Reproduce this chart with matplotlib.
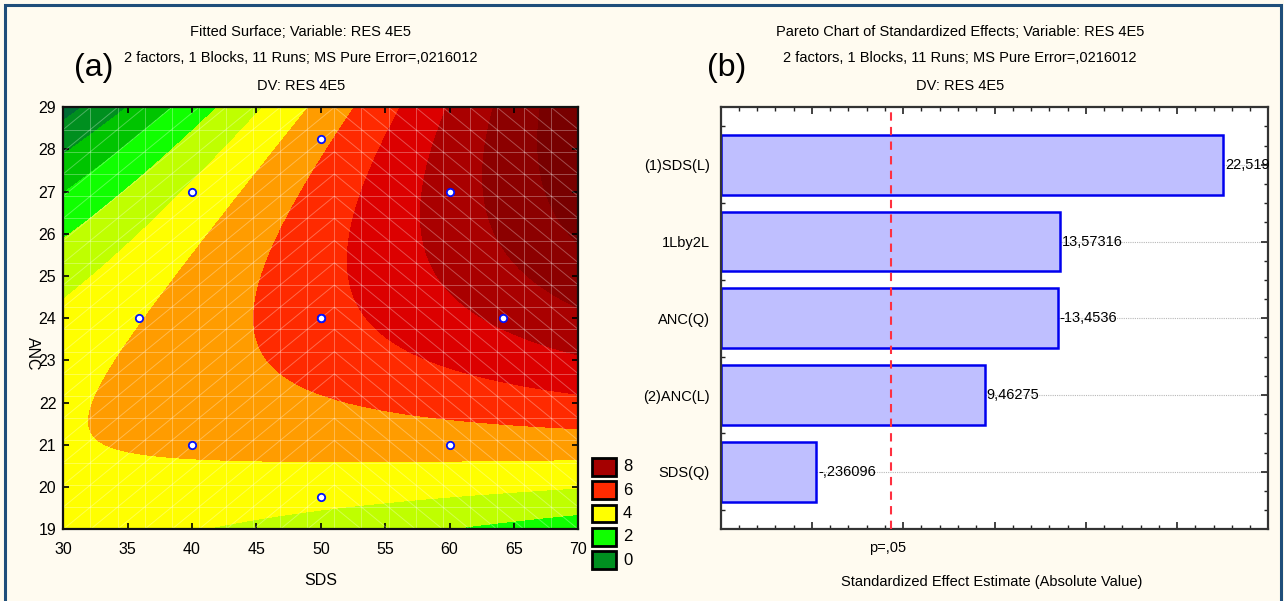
import numpy as np
import matplotlib.pyplot as plt
from matplotlib.collections import LineCollection
from matplotlib.patches import Rectangle
from matplotlib.ticker import MultipleLocator, NullFormatter, FixedLocator

plt.rcParams['font.family'] = ['Liberation Sans', 'DejaVu Sans']

# fitted quadratic model in coded units
b0, b_sds, b_anc, b_sds2, b_anc2, b_int = 6.6, 1.14, 0.52, -0.02, -0.79, 1.0
sds_center, sds_step = 50, 10
anc_center, anc_step = 24, 3

# design runs (CCD, 11 runs)
run_sds = [40, 40, 60, 60, 35.86, 64.14, 50, 50, 50, 50, 50]
run_anc = [21, 27, 21, 27, 24, 24, 19.76, 28.24, 24, 24, 24]

levels = [-2, -1, 0, 1, 2, 3, 4, 5, 6, 7, 8, 9, 10, 11, 12]
band_colors = ['#004f2a', '#006b35', '#008f1f', '#00c400', '#10ff00', '#bfff00',
               '#ffff00', '#ff9c00', '#ff2a00', '#dc0000', '#a90000', '#8c0000',
               '#780000', '#640000']
legend_values = [8, 6, 4, 2, 0]
legend_colors = ['#a50000', '#ff2a00', '#ffff00', '#10ff00', '#009020']

# pareto chart
effects = ['(1)SDS(L)', '1Lby2L', 'ANC(Q)', '(2)ANC(L)', 'SDS(Q)']
t_values = [22.519, 13.57316, -13.4536, 9.46275, -0.236096]
value_labels = ['22,519', '13,57316', '-13,4536', '9,46275', '-,236096']
p05 = 4.303

W, H = 1284, 601
fig = plt.figure(figsize=(W / 100, H / 100), dpi=100)
fig.patch.set_facecolor('#fffbf0')


def px(x0, y0, x1, y1):
    return [x0 / W, 1 - y1 / H, (x1 - x0) / W, (y1 - y0) / H]


# ---------- (a) fitted surface ----------
ax1 = fig.add_axes(px(63.3, 107.3, 578.3, 529.3))
sds = np.linspace(30, 70, 300)
anc = np.linspace(19, 29, 300)
S, A = np.meshgrid(sds, anc)
u = (S - sds_center) / sds_step
v = (A - anc_center) / anc_step
Z = b0 + b_sds * u + b_anc * v + b_sds2 * u ** 2 + b_anc2 * v ** 2 + b_int * u * v
ax1.contourf(S, A, Z, levels=levels, colors=band_colors, zorder=1)

# wire mesh
gx = np.linspace(30, 70, 20)
gy = np.linspace(19, 29, 20)
segs = [[(x, 19), (x, 29)] for x in gx] + [[(30, y), (70, y)] for y in gy]
for i in range(19):
    for j in range(19):
        if i < 10:
            segs.append([(gx[i], gy[j]), (gx[i + 1], gy[j + 1])])
        else:
            segs.append([(gx[i], gy[j + 1]), (gx[i + 1], gy[j])])
ax1.add_collection(LineCollection(segs, colors='white', linewidths=0.7, alpha=0.3, zorder=2))

ax1.scatter(run_sds, run_anc, s=28, facecolor='white', edgecolor='#0010ff',
            linewidth=1.3, zorder=3)
ax1.set_xlim(30, 70)
ax1.set_ylim(19, 29)
ax1.xaxis.set_major_locator(MultipleLocator(5))
ax1.yaxis.set_major_locator(MultipleLocator(1))
ax1.tick_params(direction='in', top=True, right=True, length=4, width=1.2,
                labelsize=11.5, color='black')
ax1.tick_params(axis='x', pad=9)
ax1.tick_params(axis='y', pad=5)
for s in ax1.spines.values():
    s.set_linewidth(1.6)
    s.set_color('#111111')

fig.text(320.8 / W, 1 - 580.7 / H, 'SDS', ha='center', va='center', fontsize=11.5)
fig.text(32.7 / W, 1 - 354 / H, 'ANC', ha='center', va='center', fontsize=11.5,
         rotation=270)

# legend boxes
axl = fig.add_axes(px(590, 455, 640, 572))
axl.set_xlim(0, 50)
axl.set_ylim(5, 0)
axl.axis('off')
for i, (val, col) in enumerate(zip(legend_values, legend_colors)):
    axl.add_patch(Rectangle((2, i + 0.12), 24, 0.76, facecolor=col,
                            edgecolor='black', linewidth=2))
    axl.text(33, i + 0.5, str(val), ha='left', va='center', fontsize=12)

# ---------- (b) pareto chart ----------
ax2 = fig.add_axes(px(720.7, 107.3, 1268.3, 529.3))
ax2.set_facecolor('white')
xmin, xmax = -5, 25
ypos = np.arange(len(effects))
for y in ypos:
    ax2.axhline(y, color='#b8b8b8', linestyle=(0, (1, 1)), linewidth=0.8, zorder=1)
ax2.barh(ypos, np.abs(t_values) - xmin, left=xmin, height=0.78,
         color='#bfbfff', edgecolor='#0000ee', linewidth=1.8, zorder=2)
for y, t, lab in zip(ypos, t_values, value_labels):
    ax2.text(abs(t) + 0.1, y, lab, ha='left', va='center', fontsize=10.5, zorder=4)
ax2.axvline(p05, color='#ff3040', linestyle=(0, (4, 3)), linewidth=1.5, zorder=3)
ax2.set_xlim(xmin, xmax)
ax2.set_ylim(4.75, -0.75)
ax2.xaxis.set_major_locator(MultipleLocator(5))
ax2.xaxis.set_minor_locator(MultipleLocator(1))
ax2.xaxis.set_major_formatter(NullFormatter())
ax2.set_yticks(ypos)
ax2.set_yticklabels(effects)
ax2.yaxis.set_minor_locator(FixedLocator(np.arange(-0.5, 4.75, 0.25)))
ax2.tick_params(which='both', direction='in', top=True, right=True, color='#222222')
ax2.tick_params(which='major', length=5, width=1.2, labelsize=10.5, pad=8)
ax2.tick_params(which='minor', length=3, width=1)
for s in ax2.spines.values():
    s.set_linewidth(1.6)
    s.set_color('#333333')

fig.text(888 / W, 1 - 548 / H, 'p=,05', ha='center', va='center', fontsize=10.5)
fig.text(992 / W, 1 - 581.7 / H, 'Standardized Effect Estimate (Absolute Value)',
         ha='center', va='center', fontsize=10.5)

# titles
title_a = ['Fitted Surface; Variable: RES 4E5',
           '2 factors, 1 Blocks, 11 Runs; MS Pure Error=,0216012', 'DV: RES 4E5']
title_b = ['Pareto Chart of Standardized Effects; Variable: RES 4E5',
           '2 factors, 1 Blocks, 11 Runs; MS Pure Error=,0216012', 'DV: RES 4E5']
for k, yy in enumerate([31.7, 58, 86]):
    fig.text(301 / W, 1 - yy / H, title_a[k], ha='center', va='center', fontsize=10.5)
    fig.text(960 / W, 1 - yy / H, title_b[k], ha='center', va='center', fontsize=10.5)
fig.text(94 / W, 1 - 68 / H, '(a)', ha='center', va='center', fontsize=23)
fig.text(727 / W, 1 - 68 / H, '(b)', ha='center', va='center', fontsize=23)

# outer frame
fig.add_artist(Rectangle((5 / W, -0.02), 1276 / W, 1 - 5 / H + 0.02,
                         transform=fig.transFigure, fill=False,
                         edgecolor='#1f4e7a', linewidth=2.2))

fig.savefig('out.png', dpi=100, facecolor=fig.get_facecolor())
